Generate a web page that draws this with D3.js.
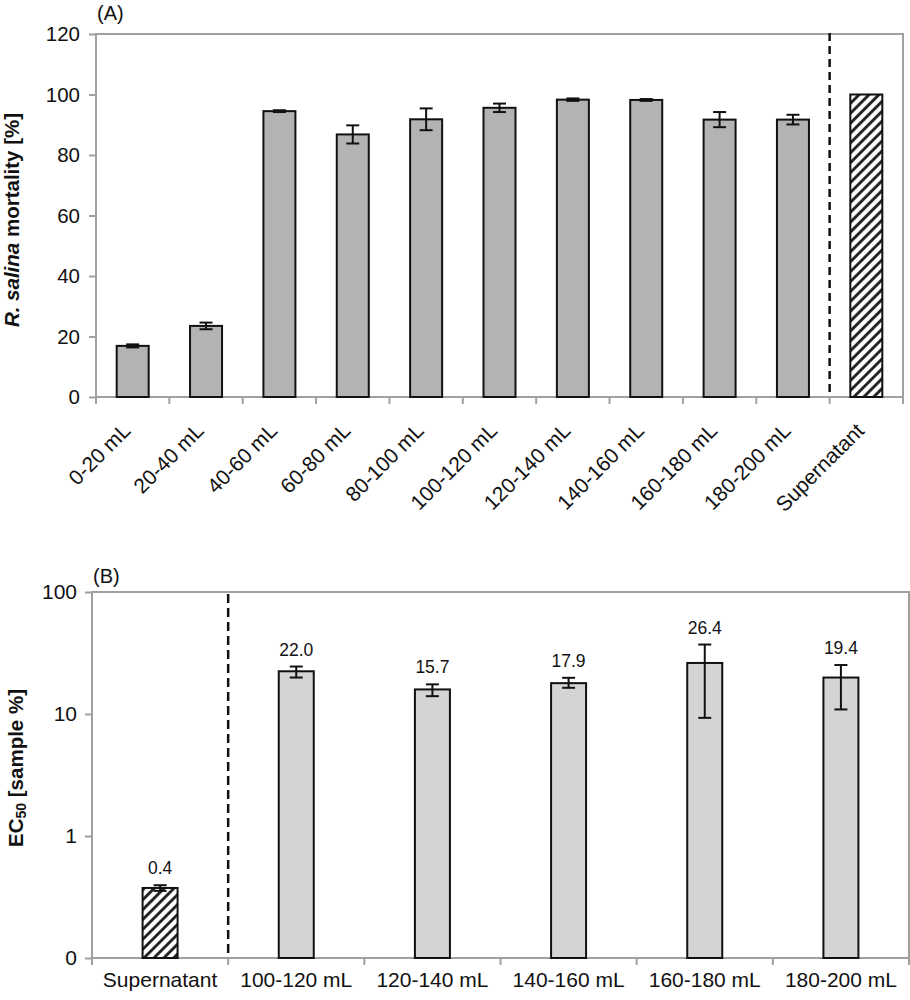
<!DOCTYPE html>
<html>
<head>
<meta charset="utf-8">
<script src="https://cdn.jsdelivr.net/npm/d3@7"></script>
<style>
  body { margin: 0; background: #fff; }
  svg { font-family: "Liberation Sans", Arial, sans-serif; }
</style>
</head>
<body>
<div id="chart"></div>
<script>
// panel A: mortality per fraction
var fractionsA = ["0-20 mL", "20-40 mL", "40-60 mL", "60-80 mL", "80-100 mL", "100-120 mL",
                  "120-140 mL", "140-160 mL", "160-180 mL", "180-200 mL", "Supernatant"];
var mortality = [16.9, 23.5, 94.5, 86.8, 91.8, 95.6, 98.3, 98.2, 91.7, 91.7, 100];
var mortalityErr = [0.5, 1.1, 0.3, 3.0, 3.6, 1.4, 0.4, 0.3, 2.5, 1.6, 0];
var ticksA = [0, 20, 40, 60, 80, 100, 120];

// panel B: EC50 (log axis)
var fractionsB = ["Supernatant", "100-120 mL", "120-140 mL", "140-160 mL", "160-180 mL", "180-200 mL"];
var ec50 = [0.375, 22.4, 15.9, 17.9, 26.2, 19.9];
var ec50Low = [0.355, 19.9, 14.0, 16.4, 9.3, 10.9];
var ec50High = [0.395, 24.5, 17.5, 19.8, 37.1, 25.2];
var ec50Labels = ["0.4", "22.0", "15.7", "17.9", "26.4", "19.4"];
var ticksB = [0.1, 1, 10, 100];

var width = 910, height = 1000;
var axisGray = "#a0a0a0";

var svg = d3.select("#chart").append("svg")
    .attr("width", width)
    .attr("height", height);

var defs = svg.append("defs");
var pat = defs.append("pattern")
    .attr("id", "hatch")
    .attr("patternUnits", "userSpaceOnUse")
    .attr("width", 7).attr("height", 7)
    .attr("patternTransform", "rotate(45)");
pat.append("rect").attr("width", 7).attr("height", 7).attr("fill", "#fff");
pat.append("line")
    .attr("x1", 1.5).attr("y1", 0).attr("x2", 1.5).attr("y2", 7)
    .attr("stroke", "#1a1a1a").attr("stroke-width", 2.8);

function frame(g, w, h) {
    g.append("rect")
        .attr("x", 0).attr("y", 0)
        .attr("width", w).attr("height", h)
        .attr("fill", "none")
        .attr("stroke", axisGray)
        .attr("stroke-width", 2);
}

function styleAxis(sel) {
    sel.select(".domain").remove();
    sel.selectAll(".tick line").attr("stroke", axisGray).attr("stroke-width", 2);
    sel.selectAll(".tick text").attr("fill", "#111");
}

// ---------- panel A ----------
var A = { left: 96, top: 34, w: 807, h: 363 };
var gA = svg.append("g").attr("transform", "translate(" + A.left + "," + A.top + ")");

var xA = d3.scaleBand().domain(fractionsA).range([0, A.w]).padding(0);
var yA = d3.scaleLinear().domain([0, 120]).range([A.h, 0]);
var barWA = 32;

frame(gA, A.w, A.h);

gA.append("g")
    .call(d3.axisLeft(yA).tickValues(ticksA).tickSize(7).tickPadding(9))
    .call(styleAxis)
    .selectAll("text").style("font-size", "20.5px");

// category boundary ticks
gA.selectAll(".btick")
    .data(fractionsA.map(function(d){ return xA(d); }).concat([A.w]))
    .enter().append("line")
    .attr("x1", function(d){ return d; }).attr("x2", function(d){ return d; })
    .attr("y1", A.h).attr("y2", A.h + 7)
    .attr("stroke", axisGray).attr("stroke-width", 2);

gA.selectAll(".xlab")
    .data(fractionsA)
    .enter().append("text")
    .attr("text-anchor", "end")
    .attr("transform", function(d){
        return "translate(" + (xA(d) + xA.bandwidth() / 2 - 1) + "," + (A.h + 35) + ") rotate(-45)";
    })
    .style("font-size", "21px")
    .attr("fill", "#111")
    .text(function(d){ return d; });

gA.selectAll(".bar")
    .data(fractionsA)
    .enter().append("rect")
    .attr("x", function(d){ return xA(d) + (xA.bandwidth() - barWA) / 2; })
    .attr("y", function(d, i){ return yA(mortality[i]); })
    .attr("width", barWA)
    .attr("height", function(d, i){ return A.h - yA(mortality[i]); })
    .attr("fill", function(d){ return d == "Supernatant" ? "url(#hatch)" : "#b3b3b3"; })
    .attr("stroke", "#111")
    .attr("stroke-width", 2);

var errA = gA.selectAll(".err")
    .data(fractionsA.filter(function(d, i){ return mortalityErr[i] > 0; }))
    .enter().append("g")
    .attr("stroke", "#111").attr("stroke-width", 2);
errA.each(function(d){
    var i = fractionsA.indexOf(d);
    var cx = xA(d) + xA.bandwidth() / 2;
    var y0 = yA(mortality[i] - mortalityErr[i]), y1 = yA(mortality[i] + mortalityErr[i]);
    var g = d3.select(this);
    g.append("line").attr("x1", cx).attr("x2", cx).attr("y1", y0).attr("y2", y1);
    g.append("line").attr("x1", cx - 6.5).attr("x2", cx + 6.5).attr("y1", y0).attr("y2", y0);
    g.append("line").attr("x1", cx - 6.5).attr("x2", cx + 6.5).attr("y1", y1).attr("y2", y1);
});

// dashed separator before supernatant
gA.append("line")
    .attr("x1", xA("Supernatant")).attr("x2", xA("Supernatant"))
    .attr("y1", -1).attr("y2", A.h)
    .attr("stroke", "#111").attr("stroke-width", 2.5)
    .attr("stroke-dasharray", "8,5");

gA.append("text")
    .attr("x", 1).attr("y", -14)
    .style("font-size", "20px")
    .attr("fill", "#111")
    .text("(A)");

var titleA = svg.append("text")
    .attr("transform", "translate(19," + 220 + ") rotate(-90)")
    .attr("text-anchor", "middle")
    .style("font-size", "20.5px")
    .style("font-weight", "bold")
    .attr("fill", "#111");
titleA.append("tspan").style("font-style", "italic").text("R. salina");
titleA.append("tspan").text(" mortality [%]");

// ---------- panel B ----------
var B = { left: 92, top: 592, w: 817, h: 366 };
var gB = svg.append("g").attr("transform", "translate(" + B.left + "," + B.top + ")");

var xB = d3.scaleBand().domain(fractionsB).range([0, B.w]).padding(0);
var yB = d3.scaleLog().domain([0.1, 100]).range([B.h, 0]);
var barWB = 35;

frame(gB, B.w, B.h);

gB.append("g")
    .call(d3.axisLeft(yB).tickValues(ticksB).tickSize(7).tickPadding(8)
        .tickFormat(function(d){ return d < 1 ? "0" : d3.format("d")(d); }))
    .call(styleAxis)
    .selectAll("text").style("font-size", "21px");

gB.selectAll(".btick")
    .data(fractionsB.map(function(d){ return xB(d); }).concat([B.w]))
    .enter().append("line")
    .attr("x1", function(d){ return d; }).attr("x2", function(d){ return d; })
    .attr("y1", B.h).attr("y2", B.h + 7)
    .attr("stroke", axisGray).attr("stroke-width", 2);

gB.selectAll(".xlab")
    .data(fractionsB)
    .enter().append("text")
    .attr("x", function(d){ return xB(d) + xB.bandwidth() / 2; })
    .attr("y", B.h + 29)
    .attr("text-anchor", "middle")
    .style("font-size", "21px")
    .attr("fill", "#111")
    .text(function(d){ return d; });

gB.selectAll(".bar")
    .data(fractionsB)
    .enter().append("rect")
    .attr("x", function(d){ return xB(d) + (xB.bandwidth() - barWB) / 2; })
    .attr("y", function(d, i){ return yB(ec50[i]); })
    .attr("width", barWB)
    .attr("height", function(d, i){ return B.h - yB(ec50[i]); })
    .attr("fill", function(d){ return d == "Supernatant" ? "url(#hatch)" : "#d4d4d4"; })
    .attr("stroke", "#111")
    .attr("stroke-width", 2);

gB.selectAll(".err")
    .data(fractionsB)
    .enter().append("g")
    .attr("stroke", "#111").attr("stroke-width", 2)
    .each(function(d, i){
        var cx = xB(d) + xB.bandwidth() / 2;
        var y0 = yB(ec50Low[i]), y1 = yB(ec50High[i]);
        var g = d3.select(this);
        g.append("line").attr("x1", cx).attr("x2", cx).attr("y1", y0).attr("y2", y1);
        g.append("line").attr("x1", cx - 6.5).attr("x2", cx + 6.5).attr("y1", y0).attr("y2", y0);
        g.append("line").attr("x1", cx - 6.5).attr("x2", cx + 6.5).attr("y1", y1).attr("y2", y1);
    });

gB.selectAll(".vlab")
    .data(fractionsB)
    .enter().append("text")
    .attr("x", function(d){ return xB(d) + xB.bandwidth() / 2; })
    .attr("y", function(d, i){ return Math.min(yB(ec50High[i]), yB(ec50[i])) - 11; })
    .attr("text-anchor", "middle")
    .style("font-size", "17.5px")
    .attr("fill", "#111")
    .text(function(d, i){ return ec50Labels[i]; });

gB.append("line")
    .attr("x1", xB("100-120 mL")).attr("x2", xB("100-120 mL"))
    .attr("y1", 2).attr("y2", B.h)
    .attr("stroke", "#111").attr("stroke-width", 2.5)
    .attr("stroke-dasharray", "9,5");

gB.append("text")
    .attr("x", 1).attr("y", -9)
    .style("font-size", "20px")
    .attr("fill", "#111")
    .text("(B)");

var titleB = svg.append("text")
    .attr("transform", "translate(23," + 768 + ") rotate(-90)")
    .attr("text-anchor", "middle")
    .style("font-size", "20.5px")
    .style("font-weight", "bold")
    .attr("fill", "#111");
titleB.append("tspan").text("EC");
titleB.append("tspan").style("font-size", "14px").attr("dy", 3).text("50");
titleB.append("tspan").attr("dy", -3).text(" [sample %]");
</script>
</body>
</html>
